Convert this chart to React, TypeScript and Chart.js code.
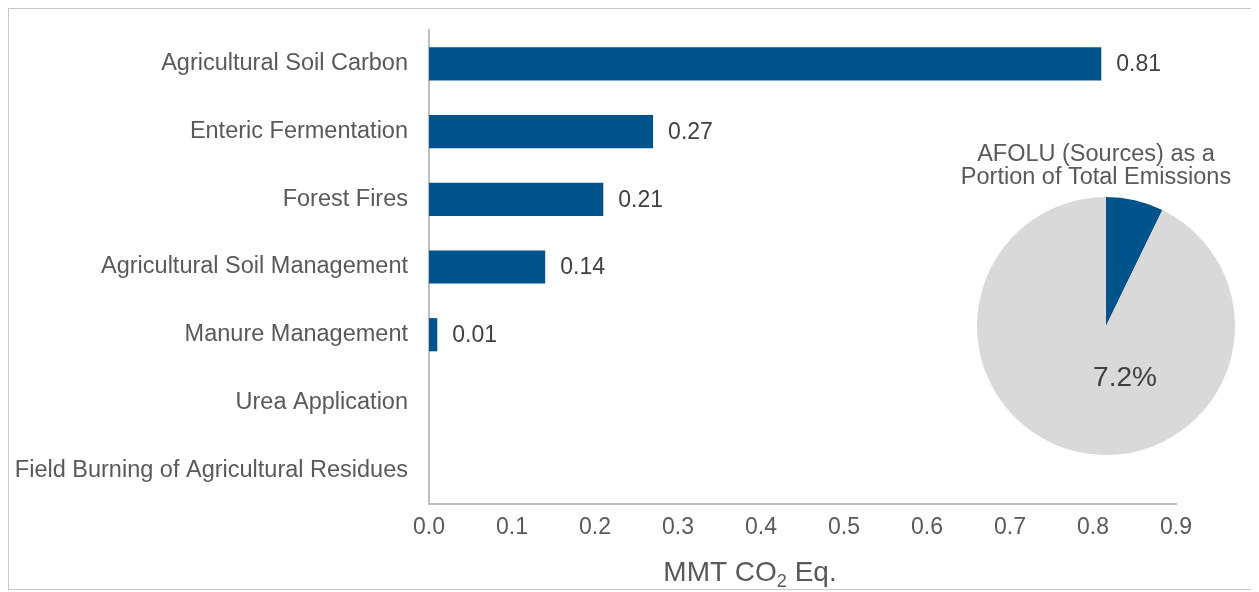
import React, { useEffect, useRef } from "react";
import { Chart, registerables } from "chart.js";

Chart.register(...registerables);

const categories = [
  "Agricultural Soil Carbon",
  "Enteric Fermentation",
  "Forest Fires",
  "Agricultural Soil Management",
  "Manure Management",
  "Urea Application",
  "Field Burning of Agricultural Residues",
];
const values = [0.81, 0.27, 0.21, 0.14, 0.01, 0, 0];
const xMin = 0;
const xMax = 0.9;
const xStep = 0.1;
const axisTitleMain = "MMT CO";
const axisTitleSub = "2";
const axisTitleTail = " Eq.";

const pieLabels = ["AFOLU (Sources)", "Other Emissions"];
const pieValues = [7.2, 92.8];
const pieTitle = ["AFOLU (Sources) as a", "Portion of Total Emissions"];
const pieLabelText = "7.2%";

const FONT = '"Liberation Sans", Arial, sans-serif';
const BLUE = "#00538b";
const GREY = "#d9d9d9";
const TEXT = "#595959";
const DARK = "#404040";
const AXIS = "#bfbfbf";

export default function App() {
  const barRef = useRef<HTMLCanvasElement>(null);
  const pieRef = useRef<HTMLCanvasElement>(null);

  useEffect(() => {
    const valueLabels = {
      id: "valueLabels",
      afterDatasetsDraw(chart: any) {
        const ctx = chart.ctx;
        const meta = chart.getDatasetMeta(0);
        ctx.save();
        ctx.font = `23px ${FONT}`;
        ctx.fillStyle = DARK;
        ctx.textAlign = "left";
        ctx.textBaseline = "middle";
        meta.data.forEach((el: any, i: number) => {
          const v = values[i];
          if (v > 0) ctx.fillText(v.toFixed(2), el.x + 15, el.y + 1);
        });
        ctx.restore();
      },
    };
    const axisTitle = {
      id: "axisTitle",
      afterDraw(chart: any) {
        const ctx = chart.ctx;
        const ca = chart.chartArea;
        ctx.save();
        ctx.fillStyle = TEXT;
        ctx.textBaseline = "middle";
        ctx.textAlign = "left";
        const big = `28px ${FONT}`;
        const small = `18px ${FONT}`;
        ctx.font = big;
        const w1 = ctx.measureText(axisTitleMain).width;
        const w3 = ctx.measureText(axisTitleTail).width;
        ctx.font = small;
        const w2 = ctx.measureText(axisTitleSub).width;
        const total = w1 + w2 + w3;
        const cx = ca.left + 321;
        const y = ca.bottom + 69;
        let x = cx - total / 2;
        ctx.font = big;
        ctx.fillText(axisTitleMain, x, y);
        x += w1;
        ctx.font = small;
        ctx.fillText(axisTitleSub, x, y + 9);
        x += w2;
        ctx.font = big;
        ctx.fillText(axisTitleTail, x, y);
        ctx.restore();
      },
    };

    const bar = new Chart(barRef.current!, {
      type: "bar",
      data: {
        labels: categories,
        datasets: [
          {
            data: values,
            backgroundColor: BLUE,
            borderWidth: 0,
            barPercentage: 0.49,
            categoryPercentage: 1,
          },
        ],
      },
      options: {
        indexAxis: "y",
        animation: false,
        responsive: false,
        layout: { padding: { top: 21, right: 79, bottom: 0, left: 0 } },
        plugins: { legend: { display: false }, tooltip: { enabled: false } },
        scales: {
          x: {
            min: xMin,
            max: xMax,
            grid: { display: false, drawTicks: false },
            border: { display: true, color: AXIS, width: 2 },
            ticks: {
              stepSize: xStep,
              padding: 10,
              color: TEXT,
              font: { size: 23, family: FONT },
              maxRotation: 0,
              callback: (v: any) => Number(v).toFixed(1),
            },
            afterFit: (s: any) => {
              s.height = 85;
              s.paddingLeft = 0;
              s.paddingRight = 0;
            },
          },
          y: {
            grid: { display: false, drawTicks: false },
            border: { display: true, color: AXIS, width: 2 },
            ticks: {
              padding: 21,
              color: TEXT,
              font: { size: 23.5, family: FONT },
            },
            afterFit: (s: any) => {
              s.width = 420;
              s.paddingTop = 0;
              s.paddingBottom = 0;
            },
          },
        },
      },
      plugins: [valueLabels, axisTitle],
    } as any);

    const pieText = {
      id: "pieText",
      afterDraw(chart: any) {
        const ctx = chart.ctx;
        const arc = chart.getDatasetMeta(0).data[0];
        ctx.save();
        ctx.fillStyle = TEXT;
        ctx.textAlign = "center";
        ctx.textBaseline = "middle";
        ctx.font = `23.5px ${FONT}`;
        pieTitle.forEach((t, i) => ctx.fillText(t, 140, 20 + i * 23));
        ctx.fillStyle = DARK;
        ctx.font = `28px ${FONT}`;
        ctx.fillText(pieLabelText, arc.x + 19, arc.y + 52);
        ctx.restore();
      },
    };

    const pie = new Chart(pieRef.current!, {
      type: "pie",
      data: {
        labels: pieLabels,
        datasets: [
          {
            data: pieValues,
            backgroundColor: [BLUE, GREY],
            borderWidth: 0,
          },
        ],
      },
      options: {
        animation: false,
        responsive: false,
        layout: { padding: { top: 62, bottom: 10, left: 21, right: 21 } },
        plugins: { legend: { display: false }, tooltip: { enabled: false } },
      },
      plugins: [pieText],
    } as any);

    return () => {
      bar.destroy();
      pie.destroy();
    };
  }, []);

  return (
    <div
      style={{
        position: "relative",
        width: 1246,
        height: 580,
        border: "1px solid #c8c8c8",
        background: "#fff",
      }}
    >
      <canvas
        ref={barRef}
        width={1246}
        height={580}
        style={{ position: "absolute", left: 0, top: 0 }}
      />
      <canvas
        ref={pieRef}
        width={300}
        height={330}
        style={{ position: "absolute", left: 947, top: 126 }}
      />
    </div>
  );
}
